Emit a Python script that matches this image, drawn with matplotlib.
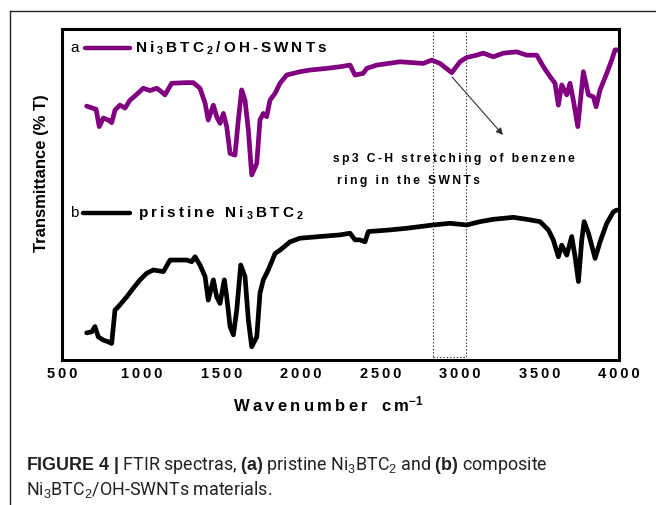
import re
import matplotlib
matplotlib.use("Agg")
import matplotlib.pyplot as plt
from matplotlib.patches import Rectangle
from matplotlib.lines import Line2D

# ---- spectra (wavenumber, relative transmittance) ----
wn_a = [655, 697, 714, 734, 760, 791, 812, 833, 864, 896, 927, 959, 1011, 1053, 1095,
        1116, 1147, 1189, 1284, 1325, 1367, 1399, 1419, 1451, 1472, 1493, 1514, 1535,
        1556, 1587, 1608, 1629, 1650, 1671, 1692, 1724, 1744, 1765, 1786, 1807, 1839,
        1870, 1912, 1996, 2058, 2163, 2247, 2310, 2341, 2393, 2415, 2478, 2624, 2770,
        2823, 2875, 2949, 3001, 3043, 3106, 3147, 3210, 3273, 3357, 3420, 3483, 3525,
        3567, 3598, 3619, 3640, 3672, 3692, 3713, 3741, 3776, 3808, 3839, 3856, 3881,
        3923, 3954, 3975, 3990]
t_a = [76.7, 76.0, 75.8, 70.5, 73.1, 72.5, 71.7, 75.5, 77.0, 76.1, 78.5, 79.8, 82.1, 81.4,
       82.1, 81.4, 80.1, 83.6, 83.8, 83.8, 82.1, 77.6, 72.5, 77.0, 73.5, 71.5, 74.5, 70.5,
       62.4, 61.9, 72.5, 81.6, 78.5, 69.5, 55.9, 59.4, 72.5, 74.5, 73.5, 78.5, 80.6, 83.6,
       86.1, 87.1, 87.6, 88.1, 88.6, 89.1, 86.1, 86.6, 88.1, 89.1, 90.1, 89.6, 90.6, 89.6,
       86.8, 90.1, 91.4, 92.1, 92.7, 91.6, 92.7, 93.1, 92.1, 92.1, 88.6, 85.6, 83.6, 77.0,
       83.1, 80.1, 83.6, 78.5, 70.5, 87.1, 80.1, 79.5, 76.5, 81.6, 86.6, 90.6, 93.7, 93.7]

wn_b = [655, 687, 707, 728, 760, 791, 812, 833, 854, 907, 948, 990, 1032, 1074, 1137,
        1179, 1284, 1315, 1336, 1367, 1399, 1419, 1451, 1472, 1493, 1520, 1535, 1556,
        1577, 1598, 1623, 1650, 1671, 1692, 1724, 1744, 1765, 1796, 1839, 1870, 1933,
        1996, 2121, 2247, 2310, 2341, 2373, 2404, 2425, 2561, 2666, 2833, 2938, 3043,
        3127, 3210, 3336, 3420, 3504, 3556, 3587, 3619, 3640, 3672, 3703, 3724, 3745,
        3766, 3781, 3808, 3850, 3881, 3923, 3965, 3986]
t_b = [8.2, 8.5, 10.1, 7.0, 6.0, 5.5, 5.0, 15.1, 16.1, 19.1, 21.7, 24.2, 26.2, 27.2, 26.7,
       30.2, 30.2, 29.7, 31.2, 28.7, 25.2, 18.1, 24.2, 19.1, 17.1, 24.2, 19.1, 10.1, 7.6,
       15.1, 28.7, 25.2, 12.1, 4.0, 7.0, 20.2, 24.2, 27.2, 32.2, 33.2, 35.7, 36.8, 37.3,
       37.8, 38.3, 36.3, 36.3, 35.7, 38.8, 39.3, 39.8, 40.8, 41.3, 40.8, 41.8, 42.5, 43.1,
       42.5, 41.8, 39.3, 36.3, 31.2, 34.7, 31.7, 37.3, 31.2, 23.7, 36.3, 41.8, 38.3, 30.7,
       35.7, 41.3, 44.8, 45.3]

x_ticks = [500, 1000, 1500, 2000, 2500, 3000, 3500, 4000]
sp3_band = (2830, 3040)

label_a = r"Ni$_\mathbf{3}$BTC$_\mathbf{2}$/OH-SWNTs"
label_b = r"pristine Ni$_\mathbf{3}$BTC$_\mathbf{2}$"
note_1 = "sp3 C-H stretching of benzene"
note_2 = "ring in the SWNTs"

PURPLE = "#800080"
BASE = "Liberation Sans"

plt.rcParams["font.family"] = [BASE, "DejaVu Sans"]
plt.rcParams["mathtext.fontset"] = "custom"
plt.rcParams["mathtext.rm"] = BASE
plt.rcParams["mathtext.bf"] = BASE + ":bold"
plt.rcParams["mathtext.it"] = BASE + ":italic"


def spaced(s, gap="\u2009"):
    """Letter-space plain text, leaving $...$ math chunks intact."""
    parts = re.split(r"(\$[^$]*\$)", s)
    out = []
    for p in parts:
        if not p:
            continue
        if p.startswith("$"):
            out.append(p)
        else:
            out.append(gap.join(p))
    return gap.join(out)


fig = plt.figure(figsize=(6.56, 5.05), dpi=100)

# outer panel frame (left and top edges)
fig.add_artist(Line2D([10 / 656, 10 / 656], [0, 1 - 11 / 505], color="#222222",
                      lw=1.0, transform=fig.transFigure))
fig.add_artist(Line2D([10 / 656, 1], [1 - 11 / 505, 1 - 11 / 505], color="#222222",
                      lw=1.0, transform=fig.transFigure))

ax = fig.add_axes([62 / 656, 1 - 360 / 505, (619 - 62) / 656, (360 - 29) / 505])
ax.plot(wn_a, t_a, color=PURPLE, lw=3.4, solid_joinstyle="round", solid_capstyle="round")
ax.plot(wn_b, t_b, color="black", lw=3.4, solid_joinstyle="round", solid_capstyle="round")

ax.set_xlim(500, 4000)
ax.set_ylim(0, 100)
ax.set_yticks([])
ax.set_xticks(x_ticks)
ax.set_xticklabels([spaced(str(t)) for t in x_ticks], fontsize=10.5, fontweight="bold")
ax.tick_params(axis="x", length=0, pad=5)
for sp in ax.spines.values():
    sp.set_linewidth(2.2)

ax.set_xlabel(spaced("Wavenumber") + "   " + spaced("cm") + r"$^{\mathbf{-1}}$",
              fontsize=12, fontweight="bold")
ax.xaxis.set_label_coords(0.478, -0.103)
fig.text(42 / 656, 1 - 173 / 505, "Transmittance (% T)", rotation=90, fontsize=12,
         fontweight="bold", ha="center", va="center")

# C-H stretching region
ax.add_patch(Rectangle((sp3_band[0], 1), sp3_band[1] - sp3_band[0], 99, fill=False,
                       ls=(0, (1.2, 1.8)), lw=0.8, ec="#333333"))
ax.annotate("", xy=(3271, 68), xytext=(2951, 85.5),
            arrowprops=dict(arrowstyle="-|>", color="#333333", lw=0.8,
                            mutation_scale=10, shrinkA=0, shrinkB=0))
ax.text(2203, 60.7, spaced(note_1), fontsize=8.7, fontweight="bold", va="center", ha="left")
ax.text(2230, 54.0, spaced(note_2), fontsize=8.7, fontweight="bold", va="center", ha="left")

# in-plot series labels
ax.text(550, 94.3, "a", fontsize=11, va="center", ha="left")
ax.plot([645, 927], [94.3, 94.3], color=PURPLE, lw=3.2, solid_capstyle="round")
ax.text(959, 94.3, spaced(label_a), fontsize=11, fontweight="bold", va="center", ha="left")
ax.text(550, 44.4, "b", fontsize=11, va="center", ha="left")
ax.plot([632, 927], [44.4, 44.4], color="black", lw=3.2, solid_capstyle="round")
ax.text(978, 44.4, spaced(label_b), fontsize=11, fontweight="bold", va="center", ha="left")

# caption
cap_y1 = 1 - 465 / 505
cap_y2 = 1 - 490 / 505
fig.text(26 / 656, cap_y1,
         r"$\mathbf{FIGURE\ 4\ |}$ FTIR spectras, $\mathbf{(a)}$ pristine Ni$_3$BTC$_2$ and "
         r"$\mathbf{(b)}$ composite", fontsize=12.9, family="Roboto", va="center", ha="left",
         color="#222222")
fig.text(26 / 656, cap_y2, r"Ni$_3$BTC$_2$/OH-SWNTs materials.", fontsize=12.9,
         family="Roboto", va="center", ha="left", color="#222222")

fig.savefig("out.png", dpi=100)
